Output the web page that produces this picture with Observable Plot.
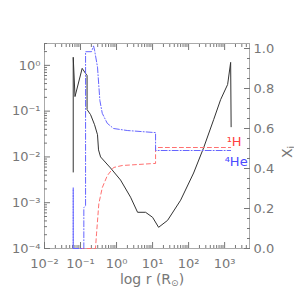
<!DOCTYPE html>
<html><head><meta charset="utf-8">
<script src="https://cdn.jsdelivr.net/npm/d3@7"></script>
<script src="https://cdn.jsdelivr.net/npm/@observablehq/plot@0.6"></script>
<style>
body{margin:0;background:#fff;}
#wrap{position:relative;width:294px;height:294px;overflow:hidden;font-family:"DejaVu Sans",sans-serif;color:#777;}
#wrap svg{position:absolute;left:0;top:0;}
.lbl{position:absolute;font-size:14px;color:#777;white-space:nowrap;}
</style>
</head><body>
<div id="wrap"></div>
<script>
// ---- data ----
const xTicks = [1e-2, 1e-1, 1, 10, 100, 1000];
const xTickLabels = ["10\u207B\u00B2", "10\u207B\u00B9", "10\u2070", "10\u00B9", "10\u00B2", "10\u00B3"];
const yTicks = [1e-4, 1e-3, 1e-2, 1e-1, 1];
const yTickLabels = ["10\u207B\u2074", "10\u207B\u00B3", "10\u207B\u00B2", "10\u207B\u00B9", "10\u2070"];
const xiTicks = [0, 0.2, 0.4, 0.6, 0.8, 1.0];
const xiTickLabels = ["0.0", "0.2", "0.4", "0.6", "0.8", "1.0"];

// black curve (left log axis)
const blackR = [0.0627,0.0627,0.0703,0.111,0.138,0.152,0.152,0.190,0.245,0.296,0.316,0.360,0.681,1.29,2.45,3.83,6.39,10.0,14.7,26.1,60,137.6,261,495,775,1211,1468,1514];
const blackV = [0.00468,1.50,0.208,0.86,0.667,0.60,0.108,0.0838,0.0505,0.0305,0.01426,0.0100,0.00573,0.00313,0.00132,0.000618,0.000618,0.00048,0.00029,0.000412,0.001135,0.00445,0.0158,0.065,0.179,0.382,1.16,0.0456];

// 1H mass fraction (right axis)
const hR = [0.0627,0.26,0.278,0.322,0.401,0.552,0.826,1.44,10.7,12.1,12.1,1468];
const hX = [0,0,0.073,0.224,0.304,0.364,0.405,0.415,0.425,0.425,0.505,0.505];

// 4He mass fraction (right axis)
const heR = [0.0627,0.0627,0.0627,0.1236,0.1236,0.138,0.138,0.202,0.2297,0.245,0.296,0.344,0.401,0.552,0.826,1.98,10.7,12.1,12.1,1468];
const heX = [0,0.304,0,0,0.204,0.214,0.984,0.984,1.013,0.992,0.907,0.741,0.676,0.626,0.600,0.590,0.580,0.580,0.490,0.490];

const seriesLabels = [{name: "\u00B9H", color: "#ff4040"}, {name: "\u2074He", color: "#4a4aff"}];

// ---- build ----
const black = blackR.map((r, i) => ({r, v: blackV[i]}));
const h = hR.map((r, i) => ({r, x: hX[i]}));
const he = heR.map((r, i) => ({r, x: heX[i]}));

const W = 294, H = 294;
const M = {marginLeft: 44, marginRight: 45, marginTop: 43, marginBottom: 46};
const xScale = {type: "log", domain: [0.01, 4900], label: null};
const style = {fontFamily: "DejaVu Sans, sans-serif", fontSize: "13px", color: "#777", background: "transparent", overflow: "visible"};

const minors = (lo, hi) => {
  const out = [];
  for (let e = lo; e <= hi; e++) for (let m = 2; m <= 9; m++) out.push(m * Math.pow(10, e));
  return out;
};
const xMinor = minors(-2, 3).filter(d => d <= 4900);
const yMinor = minors(-4, 0).filter(d => d <= 3);
const xiMinor = d3.range(0, 21).map(i => i * 0.05).filter(d => !xiTicks.some(t => Math.abs(t - d) < 1e-6));

const fmtX = d => xTickLabels[xTicks.findIndex(t => Math.abs(Math.log10(t) - Math.log10(d)) < 1e-6)];
const fmtY = d => yTickLabels[yTicks.findIndex(t => Math.abs(Math.log10(t) - Math.log10(d)) < 1e-6)];
const fmtXi = d => xiTickLabels[xiTicks.findIndex(t => Math.abs(t - d) < 1e-6)];
const blank = () => "";

const p1 = Plot.plot({
  width: W, height: H, ...M, style,
  x: xScale,
  y: {type: "log", domain: [1e-4, 3], label: null},
  marks: [
    Plot.line(black, {x: "r", y: "v", stroke: "#333", strokeWidth: 1}),
    Plot.frame({stroke: "#aaa"}),
    Plot.axisX(xTicks, {anchor: "bottom", tickSize: -6, tickPadding: 16, tickFormat: fmtX, label: null}),
    Plot.axisX(xMinor, {anchor: "bottom", tickSize: -3, tickFormat: blank, label: null}),
    Plot.axisX(xTicks, {anchor: "top", tickSize: -6, tickFormat: blank, label: null}),
    Plot.axisX(xMinor, {anchor: "top", tickSize: -3, tickFormat: blank, label: null}),
    Plot.axisY(yTicks, {anchor: "left", tickSize: -6, tickPadding: 10, tickFormat: fmtY, label: null}),
    Plot.axisY(yMinor, {anchor: "left", tickSize: -3, tickFormat: blank, label: null})
  ]
});

const lastH = h[h.length - 1], lastHe = he[he.length - 1];
const p2 = Plot.plot({
  width: W, height: H, ...M, style,
  x: {...xScale, axis: null},
  y: {type: "linear", domain: [0, 1.025], label: null},
  marks: [
    Plot.line(h, {x: "r", y: "x", stroke: "#ff7070", strokeWidth: 1, strokeDasharray: "4,3"}),
    Plot.line(he, {x: "r", y: "x", stroke: "#6666ff", strokeWidth: 1, strokeDasharray: "6,2,1,2"}),
    Plot.text([lastH], {x: "r", y: "x", text: () => seriesLabels[0].name, fill: seriesLabels[0].color, textAnchor: "end", lineAnchor: "bottom", dx: 11, dy: -2, fontSize: 13}),
    Plot.text([lastHe], {x: "r", y: "x", text: () => seriesLabels[1].name, fill: seriesLabels[1].color, textAnchor: "end", lineAnchor: "top", dx: 17, dy: 6, fontSize: 13}),
    Plot.axisY(xiTicks, {anchor: "right", tickSize: -6, tickPadding: 10, tickFormat: fmtXi, label: null}),
    Plot.axisY(xiMinor, {anchor: "right", tickSize: -3, tickFormat: blank, label: null})
  ]
});

const wrap = document.getElementById("wrap");
wrap.appendChild(p1);
wrap.appendChild(p2);

const xl = document.createElement("div");
xl.className = "lbl";
xl.innerHTML = "log r (R<sub style=\"font-size:9px;vertical-align:-2px\">\u2299</sub>)";
xl.style.left = "152px"; xl.style.top = "271px"; xl.style.transform = "translateX(-50%)";
wrap.appendChild(xl);

const yl = document.createElement("div");
yl.className = "lbl";
yl.innerHTML = "X<sub style=\"font-size:9px;vertical-align:-2px\">i</sub>";
yl.style.left = "287px"; yl.style.top = "152px"; yl.style.transform = "translate(-50%,-50%) rotate(-90deg)";
wrap.appendChild(yl);
</script>
</body></html>
